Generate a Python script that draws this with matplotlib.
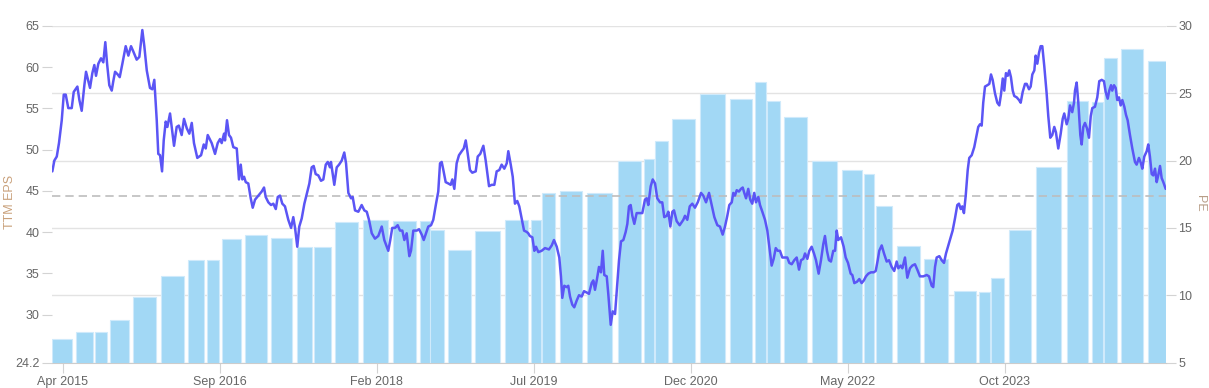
import matplotlib.pyplot as plt
from matplotlib.ticker import FormatStrFormatter
import numpy as np
import pandas as pd

plt.rcParams['font.family'] = ['Liberation Sans', 'DejaVu Sans']

# TTM EPS, one bar per reporting period (decimal years)
eps_start = [2015.158, 2015.372, 2015.541, 2015.679, 2015.889, 2016.136, 2016.382, 2016.551,
             2016.686, 2016.897, 2017.134, 2017.363, 2017.522, 2017.711, 2017.961, 2018.234,
             2018.473, 2018.568, 2018.728, 2018.974, 2019.242, 2019.477, 2019.579, 2019.738,
             2019.985, 2020.259, 2020.496, 2020.595, 2020.752, 2021.001, 2021.275, 2021.500,
             2021.606, 2021.759, 2022.009, 2022.283, 2022.481, 2022.589, 2022.779, 2023.025,
             2023.293, 2023.519, 2023.627, 2023.787, 2024.035, 2024.310, 2024.538, 2024.647,
             2024.802, 2025.043]
eps_end = [2015.333, 2015.522, 2015.652, 2015.847, 2016.094, 2016.344, 2016.529, 2016.662,
           2016.858, 2017.092, 2017.323, 2017.501, 2017.672, 2017.916, 2018.187, 2018.439,
           2018.563, 2018.689, 2018.933, 2019.194, 2019.447, 2019.567, 2019.696, 2019.940,
           2020.210, 2020.467, 2020.586, 2020.713, 2020.956, 2021.227, 2021.473, 2021.594,
           2021.720, 2021.964, 2022.235, 2022.460, 2022.571, 2022.736, 2022.984, 2023.242,
           2023.492, 2023.618, 2023.747, 2023.988, 2024.261, 2024.505, 2024.635, 2024.764,
           2024.998, 2025.206]
eps = [27.0, 27.9, 27.9, 29.3, 32.1, 34.7, 36.6, 36.6, 39.15, 39.7, 39.3, 38.2, 38.2,
       41.2, 41.45, 41.4, 41.4, 40.3, 37.8, 40.1, 41.5, 41.5, 44.7, 45.0, 44.7, 48.6,
       48.9, 51.0, 53.7, 56.8, 56.1, 58.2, 55.9, 54.0, 48.6, 47.5, 47.1, 43.2, 38.3,
       36.8, 32.9, 32.8, 34.5, 40.3, 47.9, 55.9, 55.8, 61.1, 62.2, 60.7]

# PE ratio
pe_t = [2015.158, 2015.176, 2015.198, 2015.218, 2015.243, 2015.261, 2015.279, 2015.302, 2015.333,
        2015.351, 2015.384, 2015.402, 2015.423, 2015.447, 2015.462, 2015.483, 2015.498, 2015.519,
        2015.537, 2015.552, 2015.573, 2015.597, 2015.618, 2015.636, 2015.652, 2015.672, 2015.694,
        2015.708, 2015.724, 2015.748, 2015.766, 2015.790, 2015.820, 2015.844, 2015.868, 2015.889,
        2015.919, 2015.943, 2015.970, 2015.988, 2016.010, 2016.039, 2016.060, 2016.078, 2016.100,
        2016.114, 2016.130, 2016.148, 2016.163, 2016.181, 2016.196, 2016.220, 2016.235, 2016.256,
        2016.280, 2016.299, 2016.325, 2016.346, 2016.371, 2016.394, 2016.416, 2016.436, 2016.466,
        2016.500, 2016.524, 2016.542, 2016.560, 2016.596, 2016.626, 2016.650, 2016.671, 2016.686,
        2016.707, 2016.716, 2016.734, 2016.752, 2016.770, 2016.791, 2016.822, 2016.842, 2016.858,
        2016.872, 2016.888, 2016.903, 2016.926, 2016.948, 2016.966, 2016.987, 2017.017, 2017.047,
        2017.068, 2017.083, 2017.107, 2017.131, 2017.152, 2017.174, 2017.192, 2017.212, 2017.233,
        2017.257, 2017.287, 2017.312, 2017.332, 2017.348, 2017.368, 2017.386, 2017.408, 2017.432,
        2017.459, 2017.477, 2017.498, 2017.516, 2017.534, 2017.558, 2017.582, 2017.603, 2017.625,
        2017.643, 2017.663, 2017.672, 2017.688, 2017.702, 2017.724, 2017.745, 2017.769, 2017.792,
        2017.808, 2017.829, 2017.853, 2017.868, 2017.889, 2017.919, 2017.949, 2017.973, 2017.995,
        2018.015, 2018.040, 2018.069, 2018.099, 2018.130, 2018.153, 2018.189, 2018.207, 2018.225,
        2018.250, 2018.274, 2018.295, 2018.316, 2018.334, 2018.355, 2018.379, 2018.394, 2018.415,
        2018.446, 2018.467, 2018.491, 2018.509, 2018.530, 2018.550, 2018.575, 2018.595, 2018.620,
        2018.640, 2018.656, 2018.671, 2018.686, 2018.707, 2018.731, 2018.752, 2018.767, 2018.785,
        2018.806, 2018.827, 2018.852, 2018.870, 2018.888, 2018.906, 2018.926, 2018.947, 2018.978,
        2018.996, 2019.019, 2019.047, 2019.068, 2019.098, 2019.122, 2019.146, 2019.167, 2019.191,
        2019.212, 2019.236, 2019.258, 2019.272, 2019.294, 2019.312, 2019.332, 2019.353, 2019.371,
        2019.393, 2019.414, 2019.438, 2019.452, 2019.466, 2019.489, 2019.507, 2019.522, 2019.543,
        2019.573, 2019.603, 2019.639, 2019.664, 2019.684, 2019.709, 2019.732, 2019.747, 2019.759,
        2019.777, 2019.799, 2019.813, 2019.829, 2019.849, 2019.867, 2019.889, 2019.910, 2019.934,
        2019.955, 2019.979, 2020.000, 2020.024, 2020.039, 2020.054, 2020.070, 2020.090, 2020.108,
        2020.124, 2020.138, 2020.160, 2020.174, 2020.196, 2020.214, 2020.235, 2020.253, 2020.271,
        2020.289, 2020.310, 2020.331, 2020.346, 2020.361, 2020.376, 2020.391, 2020.409, 2020.430,
        2020.454, 2020.481, 2020.505, 2020.521, 2020.535, 2020.557, 2020.575, 2020.596, 2020.616,
        2020.641, 2020.661, 2020.679, 2020.701, 2020.716, 2020.734, 2020.752, 2020.767, 2020.791,
        2020.818, 2020.851, 2020.866, 2020.887, 2020.909, 2020.932, 2020.956, 2020.981, 2021.011,
        2021.031, 2021.056, 2021.083, 2021.107, 2021.131, 2021.158, 2021.182, 2021.206, 2021.227,
        2021.248, 2021.266, 2021.288, 2021.302, 2021.317, 2021.333, 2021.353, 2021.371, 2021.387,
        2021.401, 2021.417, 2021.437, 2021.455, 2021.473, 2021.491, 2021.507, 2021.528, 2021.543,
        2021.564, 2021.588, 2021.609, 2021.627, 2021.648, 2021.666, 2021.685, 2021.703, 2021.723,
        2021.744, 2021.768, 2021.789, 2021.807, 2021.829, 2021.852, 2021.874, 2021.895, 2021.913,
        2021.934, 2021.949, 2021.970, 2021.988, 2022.009, 2022.030, 2022.048, 2022.072, 2022.093,
        2022.114, 2022.129, 2022.147, 2022.165, 2022.183, 2022.204, 2022.220, 2022.235, 2022.249,
        2022.274, 2022.298, 2022.316, 2022.337, 2022.361, 2022.376, 2022.394, 2022.418, 2022.439,
        2022.460, 2022.480, 2022.499, 2022.520, 2022.544, 2022.569, 2022.587, 2022.605, 2022.619,
        2022.641, 2022.662, 2022.686, 2022.707, 2022.731, 2022.754, 2022.776, 2022.791, 2022.812,
        2022.827, 2022.851, 2022.872, 2022.896, 2022.917, 2022.941, 2022.962, 2022.986, 2023.016,
        2023.047, 2023.068, 2023.092, 2023.106, 2023.122, 2023.137, 2023.161, 2023.182, 2023.203,
        2023.221, 2023.242, 2023.263, 2023.281, 2023.302, 2023.323, 2023.338, 2023.354, 2023.368,
        2023.383, 2023.399, 2023.417, 2023.431, 2023.453, 2023.476, 2023.498, 2023.512, 2023.528,
        2023.543, 2023.557, 2023.573, 2023.594, 2023.612, 2023.627, 2023.642, 2023.663, 2023.684,
        2023.702, 2023.717, 2023.733, 2023.747, 2023.762, 2023.778, 2023.792, 2023.807, 2023.823,
        2023.837, 2023.859, 2023.880, 2023.895, 2023.913, 2023.934, 2023.949, 2023.970, 2023.985,
        2024.000, 2024.018, 2024.030, 2024.045, 2024.060, 2024.075, 2024.090, 2024.108, 2024.129,
        2024.144, 2024.162, 2024.180, 2024.198, 2024.213, 2024.234, 2024.256, 2024.274, 2024.288,
        2024.310, 2024.324, 2024.340, 2024.360, 2024.376, 2024.385, 2024.400, 2024.415, 2024.433,
        2024.445, 2024.460, 2024.475, 2024.493, 2024.511, 2024.527, 2024.541, 2024.565, 2024.586,
        2024.604, 2024.626, 2024.646, 2024.662, 2024.680, 2024.694, 2024.710, 2024.721, 2024.737,
        2024.752, 2024.766, 2024.782, 2024.797, 2024.812, 2024.830, 2024.845, 2024.860, 2024.881,
        2024.902, 2024.926, 2024.941, 2024.962, 2024.980, 2024.992, 2025.010, 2025.032, 2025.046,
        2025.061, 2025.077, 2025.091, 2025.107, 2025.122, 2025.136, 2025.152, 2025.167, 2025.182,
        2025.203]
pe = [19.2, 20.0, 20.3, 21.3, 23.0, 24.9, 24.9, 23.9, 23.9,
      25.1, 25.5, 24.5, 23.7, 25.6, 26.6, 25.9, 25.4, 26.5,
      27.1, 26.3, 27.2, 27.6, 27.3, 28.8, 27.2, 25.6, 25.2,
      25.9, 26.6, 26.4, 26.2, 27.2, 28.5, 27.8, 28.5, 28.1,
      27.5, 27.7, 29.7, 28.5, 26.7, 25.4, 25.3, 26.0, 23.0,
      20.5, 20.4, 19.2, 21.5, 22.9, 22.5, 23.5, 22.5, 21.1,
      22.5, 22.6, 21.9, 23.1, 22.4, 22.0, 22.8, 21.3, 20.2,
      20.4, 21.2, 20.9, 21.9, 21.3, 20.5, 21.3, 21.6, 21.3,
      22.0, 21.5, 23.0, 21.9, 21.7, 21.0, 20.9, 18.6, 19.7,
      18.6, 18.8, 18.4, 18.3, 17.2, 16.5, 17.1, 17.4, 17.7,
      18.0, 17.3, 16.9, 16.7, 16.8, 16.4, 17.3, 17.4, 16.8,
      16.6, 15.6, 15.0, 15.8, 15.0, 13.6, 15.1, 15.7, 16.8,
      17.7, 18.3, 19.5, 19.6, 19.0, 18.9, 18.5, 18.6, 19.7,
      19.9, 19.5, 19.9, 19.0, 18.2, 19.5, 19.7, 20.0, 20.6,
      19.8, 17.6, 17.2, 17.3, 16.3, 16.2, 16.7, 16.3, 16.2,
      15.6, 14.6, 14.2, 14.4, 15.1, 14.1, 13.3, 14.1, 15.0,
      15.0, 15.2, 14.8, 14.8, 14.1, 14.6, 12.9, 13.3, 14.8,
      14.8, 14.9, 14.5, 14.1, 14.6, 15.1, 15.2, 15.6, 16.8,
      17.7, 19.8, 19.9, 19.3, 18.4, 18.3, 18.2, 18.6, 17.9,
      19.8, 20.4, 20.7, 20.9, 21.5, 20.5, 19.3, 19.1, 19.2,
      20.3, 20.5, 21.1, 20.0, 18.1, 18.2, 18.2, 19.2, 19.3,
      19.7, 19.4, 19.8, 20.7, 19.7, 18.8, 16.8, 17.0, 16.6,
      15.7, 14.8, 14.7, 14.6, 14.4, 14.3, 13.3, 13.6, 13.2,
      13.3, 13.5, 13.4, 13.7, 14.1, 13.6, 12.8, 11.4, 9.8,
      10.7, 10.6, 10.7, 9.9, 9.3, 9.1, 9.6, 10.0, 9.9,
      10.3, 10.2, 10.1, 10.9, 11.1, 10.4, 11.1, 12.1, 11.7,
      13.3, 11.5, 11.4, 10.1, 7.8, 8.8, 8.6, 10.6, 12.6,
      14.0, 14.1, 14.7, 15.3, 16.6, 16.7, 15.9, 15.3, 16.1,
      16.1, 16.1, 17.1, 17.2, 16.7, 18.1, 18.6, 18.3, 17.2,
      16.9, 16.9, 15.8, 15.9, 16.2, 15.1, 16.2, 16.3, 15.5,
      15.2, 15.6, 15.9, 15.6, 16.6, 16.8, 16.5, 16.9, 17.6,
      17.4, 16.9, 17.6, 16.7, 15.8, 15.2, 15.1, 14.5, 15.1,
      15.9, 16.7, 16.9, 17.6, 17.4, 17.8, 17.7, 17.9, 18.0,
      17.6, 17.2, 17.9, 17.1, 16.8, 17.6, 16.9, 17.3, 16.7,
      16.2, 15.6, 14.8, 13.6, 12.2, 12.7, 13.5, 13.3, 13.3,
      12.8, 12.8, 12.8, 12.4, 12.3, 12.6, 12.8, 11.9, 12.6,
      12.7, 13.1, 12.7, 13.3, 13.6, 13.1, 12.6, 11.6, 12.6,
      13.8, 14.4, 13.3, 12.6, 12.5, 13.3, 13.3, 14.8, 14.1,
      14.3, 13.6, 12.8, 12.4, 11.6, 11.5, 10.9, 11.0, 11.2,
      10.9, 11.1, 11.4, 11.6, 11.7, 11.7, 11.8, 12.6, 13.3,
      13.7, 13.1, 12.5, 12.6, 12.1, 11.8, 12.5, 12.0, 12.2,
      12.0, 12.8, 11.3, 12.0, 12.2, 12.3, 11.9, 11.4, 11.4,
      11.5, 11.4, 10.7, 10.6, 12.1, 12.8, 12.9, 12.6, 12.4,
      13.1, 13.7, 14.3, 14.8, 15.7, 16.7, 16.8, 16.4, 16.6,
      16.1, 17.4, 19.3, 20.2, 20.4, 21.0, 21.9, 22.5, 22.7,
      22.6, 24.3, 25.5, 25.6, 25.7, 26.4, 26.0, 25.0, 24.3,
      24.1, 24.9, 26.1, 25.2, 26.5, 26.3, 26.7, 26.2, 25.2,
      24.8, 24.7, 24.5, 24.3, 25.1, 25.7, 25.7, 25.3, 25.5,
      26.4, 26.7, 27.8, 27.2, 28.0, 28.5, 28.5, 27.0, 25.0,
      23.3, 21.7, 21.9, 22.5, 22.1, 20.9, 22.0, 23.1, 23.5,
      22.7, 23.1, 24.1, 23.6, 24.3, 25.2, 25.8, 24.3, 21.9,
      21.2, 22.5, 22.8, 22.4, 21.7, 23.3, 23.9, 24.0, 24.7,
      25.9, 26.0, 25.9, 25.1, 24.6, 25.2, 25.6, 25.2, 25.6,
      25.4, 24.5, 24.7, 24.1, 24.5, 24.0, 23.4, 23.0, 21.9,
      20.9, 19.9, 19.7, 20.2, 19.8, 19.4, 20.3, 20.7, 21.2,
      20.3, 19.0, 18.9, 19.4, 18.4, 18.9, 19.6, 18.7, 18.4,
      17.9]
pe_avg = 17.4

x_labels = ['Apr 2015', 'Sep 2016', 'Feb 2018', 'Jul 2019', 'Dec 2020', 'May 2022', 'Oct 2023']
eps_ticks = [24.2, 30, 35, 40, 45, 50, 55, 60, 65]
pe_ticks = [5, 10, 15, 20, 25, 30]

label_dates = pd.to_datetime(x_labels, format='%b %Y')
x_pos = label_dates.year + (label_dates.month - 1) / 12

fig = plt.figure(figsize=(12.09, 3.88), dpi=100)
ax = fig.add_axes([0.04301, 0.06572, 0.92142, 0.86727])
ax_eps = ax.twinx()
ax_pe = ax.twinx()

grey_txt = '#666666'
tick_col = '#d3d3d3'

# base axes: PE scale on the right, grid lines
ax.set_xlim(2015.155, 2025.206)
ax.set_ylim(5, 30)
ax.yaxis.tick_right()
ax.set_yticks(pe_ticks)
ax.grid(axis='y', color='#e3e3e3', lw=1)
ax.set_axisbelow(True)
for s in ['top', 'left', 'right']:
    ax.spines[s].set_visible(False)
ax.spines['bottom'].set_color('#cccccc')
ax.set_xticks(x_pos)
ax.set_xticklabels(x_labels)
ax.tick_params(axis='x', length=7, color=tick_col, labelcolor=grey_txt, labelsize=9, pad=3)
ax.tick_params(axis='y', length=7, color=tick_col, labelcolor=grey_txt, labelsize=9, pad=2)

# EPS bars on the left scale
widths = np.array(eps_end) - np.array(eps_start)
ax_eps.bar(eps_start, eps, width=widths, align='edge', color='#a2d8f5',
           edgecolor='#cfeafb', linewidth=0.8)
ax_eps.set_ylim(24.2, 65)
ax_eps.set_yticks(eps_ticks)
ax_eps.yaxis.set_major_formatter(FormatStrFormatter('%g'))
ax_eps.yaxis.tick_left()
ax_eps.tick_params(axis='y', length=7, color=tick_col, labelcolor=grey_txt, labelsize=9, pad=2)
for s in ax_eps.spines.values():
    s.set_visible(False)

# PE line on top
ax_pe.set_ylim(5, 30)
ax_pe.set_yticks([])
for s in ax_pe.spines.values():
    s.set_visible(False)
ax_pe.axhline(pe_avg, color='#bdbdbd', lw=1.2, ls=(0, (5, 3)), zorder=1)
ax_pe.plot(pe_t, pe, color='#5b55f5', lw=1.8, zorder=3,
           solid_joinstyle='round', solid_capstyle='round')

fig.text(10 / 1209, 1 - 202 / 388, 'TTM EPS', rotation=90, ha='center', va='center',
         color='#c9a07a', fontsize=9)
fig.text(1200 / 1209, 1 - 203 / 388, 'PE', rotation=270, ha='center', va='center',
         color='#b89e88', fontsize=9)

fig.savefig('out.png', dpi=100)
